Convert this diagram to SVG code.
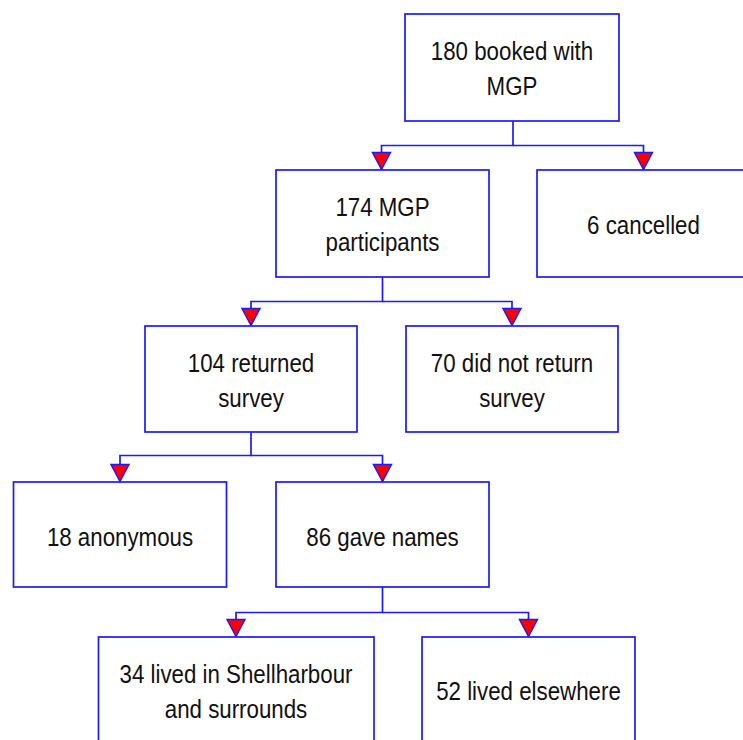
<svg xmlns="http://www.w3.org/2000/svg" width="743" height="740" viewBox="0 0 743 740">
  <style>
    .box { fill: #ffffff; stroke: #1a1aff; stroke-width: 1.7; }
    .lbl { font-family: "Liberation Sans", Arial, sans-serif; font-size: 25.5px; fill: #111111; text-anchor: middle; }
    .conn { fill: none; stroke: #1a1aff; stroke-width: 1.7; marker-end: url(#tri); }
  </style>
  <defs>
    <marker id="tri" markerUnits="userSpaceOnUse" markerWidth="20" markerHeight="22" refX="17" refY="9" orient="auto" overflow="visible">
      <path d="M0,0 L17,9 L0,18 Z" fill="#ff0000" stroke="#1a1aff" stroke-width="1.5" stroke-linejoin="miter"/>
    </marker>
  </defs>
  <rect width="743" height="740" fill="#ffffff"/>

  <g id="connectors">
    <path class="conn" d="M513,121 V145.5 H381.5 V169.5"/>
    <path class="conn" d="M513,145.5 H643.5 V169.5"/>
    <path class="conn" d="M382.5,277 V301.5 H251 V325.5"/>
    <path class="conn" d="M382.5,301.5 H512 V325.5"/>
    <path class="conn" d="M251,432 V455.5 H120 V481.5"/>
    <path class="conn" d="M251,455.5 H382.5 V481.5"/>
    <path class="conn" d="M382.5,587 V612.5 H236 V636.5"/>
    <path class="conn" d="M382.5,612.5 H528.5 V636.5"/>
  </g>

  <!-- labels use a narrowed sans face: each label block is centred at its box's x -->
  <g id="booked">
    <rect class="box" x="405" y="14" width="214" height="107"/>
    <g transform="translate(512,0) scale(0.875,1)">
      <text class="lbl" x="0" y="60">180 booked with</text>
      <text class="lbl" x="0" y="95">MGP</text>
    </g>
  </g>
  <g id="participants">
    <rect class="box" x="276" y="170" width="213" height="107"/>
    <g transform="translate(382.5,0) scale(0.875,1)">
      <text class="lbl" x="0" y="216">174 MGP</text>
      <text class="lbl" x="0" y="251">participants</text>
    </g>
  </g>
  <g id="cancelled">
    <rect class="box" x="537" y="170" width="213" height="107"/>
    <g transform="translate(643.5,0) scale(0.875,1)">
      <text class="lbl" x="0" y="234">6 cancelled</text>
    </g>
  </g>
  <g id="returned">
    <rect class="box" x="145" y="326" width="212" height="106"/>
    <g transform="translate(251,0) scale(0.875,1)">
      <text class="lbl" x="0" y="372">104 returned</text>
      <text class="lbl" x="0" y="407">survey</text>
    </g>
  </g>
  <g id="not-returned">
    <rect class="box" x="406" y="326" width="212" height="106"/>
    <g transform="translate(512,0) scale(0.875,1)">
      <text class="lbl" x="0" y="372">70 did not return</text>
      <text class="lbl" x="0" y="407">survey</text>
    </g>
  </g>
  <g id="anonymous">
    <rect class="box" x="13.5" y="482" width="213" height="105"/>
    <g transform="translate(120,0) scale(0.875,1)">
      <text class="lbl" x="0" y="546">18 anonymous</text>
    </g>
  </g>
  <g id="names">
    <rect class="box" x="276" y="482" width="213" height="105"/>
    <g transform="translate(382.5,0) scale(0.875,1)">
      <text class="lbl" x="0" y="546">86 gave names</text>
    </g>
  </g>
  <g id="shellharbour">
    <rect class="box" x="98.5" y="637" width="275.5" height="110"/>
    <g transform="translate(236,0) scale(0.875,1)">
      <text class="lbl" x="0" y="683">34 lived in Shellharbour</text>
      <text class="lbl" x="0" y="718">and surrounds</text>
    </g>
  </g>
  <g id="elsewhere">
    <rect class="box" x="422" y="637" width="213" height="110"/>
    <g transform="translate(528.5,0) scale(0.875,1)">
      <text class="lbl" x="0" y="700">52 lived elsewhere</text>
    </g>
  </g>
</svg>
